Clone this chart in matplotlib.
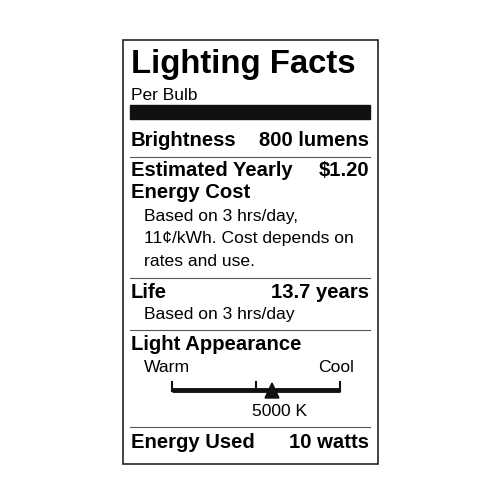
import matplotlib.pyplot as plt
from matplotlib.patches import Rectangle, Polygon

plt.rcParams['font.family'] = ['Liberation Sans', 'DejaVu Sans']

title = "Lighting Facts"
subtitle = "Per Bulb"
rows_bold = [
    ("Brightness", "800 lumens", 140),
    ("Estimated Yearly", "$1.20", 170),
    ("Energy Cost", "", 192),
    ("Life", "13.7 years", 292),
    ("Light Appearance", "", 345),
    ("Energy Used", "10 watts", 442),
]
notes = [
    ("Based on 3 hrs/day,", 216),
    ("11¢/kWh. Cost depends on", 239),
    ("rates and use.", 262),
    ("Based on 3 hrs/day", 314),
]
scale_labels = ("Warm", "Cool")
color_temp = "5000 K"
rules = [157, 278, 330, 427]

fig = plt.figure(figsize=(5, 5), dpi=100)
ax = fig.add_axes([0, 0, 1, 1])
ax.set_xlim(0, 500)
ax.set_ylim(500, 0)
ax.axis('off')

ax.add_patch(Rectangle((123, 40), 255, 424, fill=False, ec='#222', lw=1.2))
ax.text(131, 65, title, fontsize=23.7, fontweight='bold', va='center')
ax.text(131, 95, subtitle, fontsize=12.5, va='center')
ax.add_patch(Rectangle((130, 105), 240, 14, color='#111'))

for left, right, y in rows_bold:
    ax.text(131, y, left, fontsize=14.6, fontweight='bold', va='center')
    if right:
        ax.text(369, y, right, fontsize=14.6, fontweight='bold', va='center', ha='right')
for txt, y in notes:
    ax.text(144, y, txt, fontsize=12.6, va='center')
for y in rules:
    ax.plot([130, 370], [y, y], color='#555', lw=0.8)

# colour temperature scale
ax.text(144, 368, scale_labels[0], fontsize=12.6, va='center')
ax.text(354, 368, scale_labels[1], fontsize=12.6, va='center', ha='right')
ax.plot([172, 340], [390, 390], color='#111', lw=3.5, solid_capstyle='butt')
for x in (172, 256, 340):
    ax.plot([x, x], [382, 391], color='#111', lw=1.5)
ax.add_patch(Polygon([[272, 383], [265, 398], [279, 398]], color='#111'))
ax.text(280, 411, color_temp, fontsize=12.6, va='center', ha='center')

fig.savefig('out.png', dpi=100)
